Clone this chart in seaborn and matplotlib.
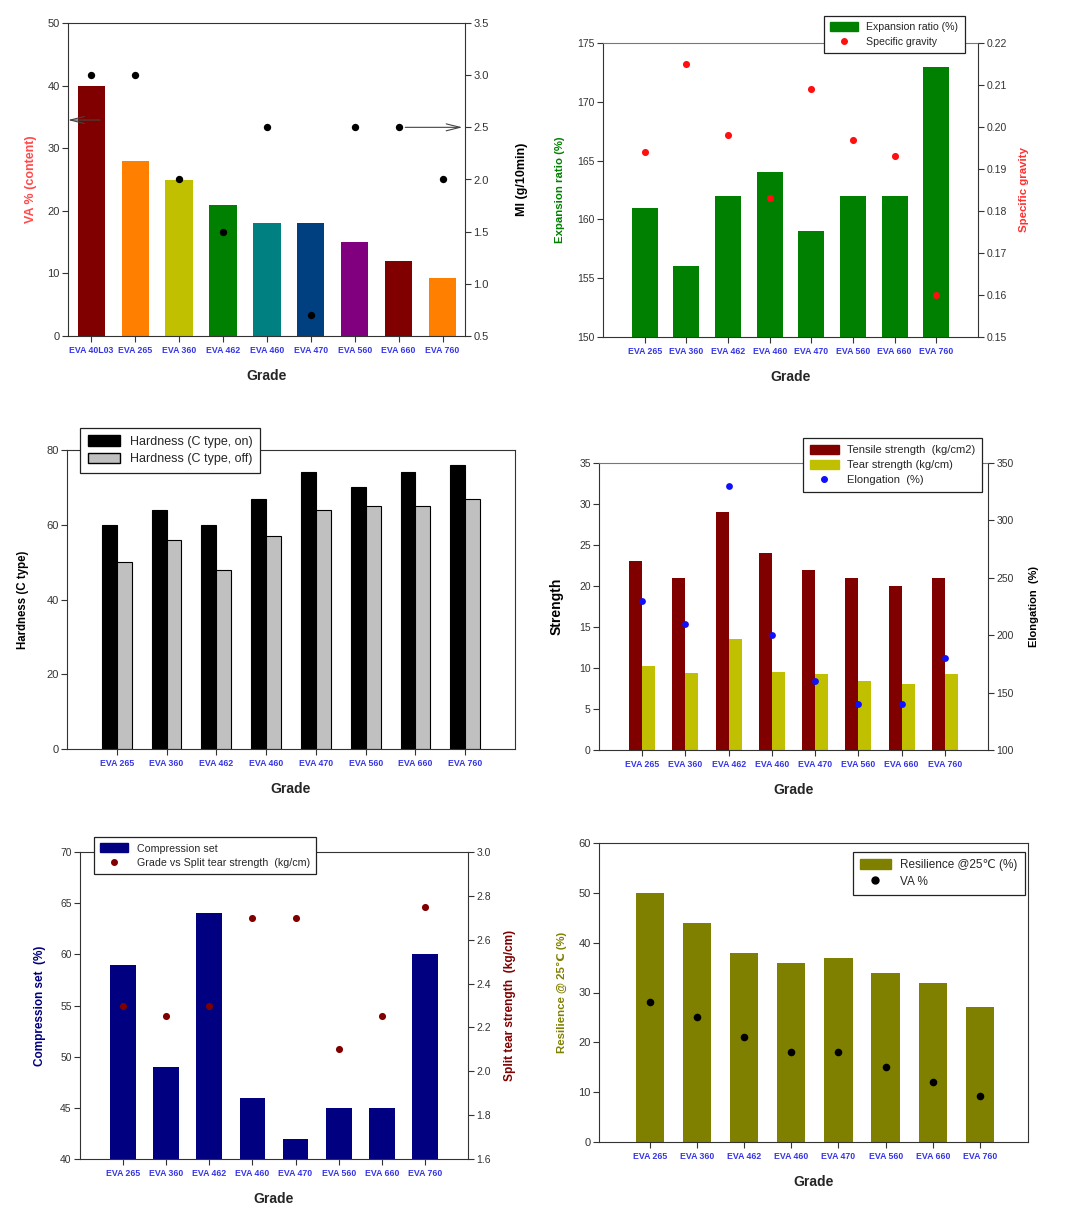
import numpy as np
import pandas as pd
import matplotlib
matplotlib.use("Agg")
import matplotlib.pyplot as plt
import matplotlib.patches as mpatches
from matplotlib.lines import Line2D
import seaborn as sns

# ---- data ----
grades9 = ['EVA 40L03', 'EVA 265', 'EVA 360', 'EVA 462', 'EVA 460',
           'EVA 470', 'EVA 560', 'EVA 660', 'EVA 760']
grades8 = grades9[1:]

va_content = [40, 28, 25, 21, 18, 18, 15, 12, 9.3]
melt_index = [3.0, 3.0, 2.0, 1.5, 2.5, 0.7, 2.5, 2.5, 2.0]
bar_colors1 = ['#800000', '#ff8000', '#c0c000', '#008000', '#008080',
               '#004080', '#800080', '#800000', '#ff8000']

expansion = [161, 156, 162, 164, 159, 162, 162, 173]
spec_grav = [0.194, 0.215, 0.198, 0.183, 0.209, 0.197, 0.193, 0.160]

hard_on = [60, 64, 60, 67, 74, 70, 74, 76]
hard_off = [50, 56, 48, 57, 64, 65, 65, 67]

tensile = [23, 21, 29, 24, 22, 21, 20, 21]
tear = [10.2, 9.4, 13.5, 9.5, 9.3, 8.4, 8.0, 9.3]
elongation = [230, 210, 330, 200, 160, 140, 140, 180]

comp_set = [59, 49, 64, 46, 42, 45, 45, 60]
split_tear = [2.3, 2.25, 2.3, 2.7, 2.7, 2.1, 2.25, 2.75]

resilience = [50, 44, 38, 36, 37, 34, 32, 27]
va_pct = [28, 25, 21, 18, 18, 15, 12, 9.3]

# ---- style ----
sns.set_style("white")
plt.rcParams['font.family'] = ['Liberation Sans', 'DejaVu Sans']

W, H = 1087, 1212
fig = plt.figure(figsize=(W / 100, H / 100), dpi=100)

SPINE = '#333333'
TICKBLUE = '#3535e8'


def make_ax(l, t, r, b):
    ax = fig.add_axes([l / W, 1 - b / H, (r - l) / W, (b - t) / H])
    return ax


def style(ax, box, twin=None, ysize=7.5):
    l, t, r, b = box
    for s in ax.spines.values():
        s.set_visible(True)
        s.set_color(SPINE)
        s.set_linewidth(0.8)
    ax.tick_params(axis='y', left=True, direction='out', length=4, width=0.8,
                   color=SPINE, labelsize=ysize, labelcolor='#333333', pad=2)
    ax.tick_params(axis='x', bottom=True, direction='out', length=4, width=0.8,
                   color=SPINE, pad=3)
    for lab in ax.get_xticklabels():
        lab.set_fontsize(6.3)
        lab.set_fontweight('bold')
        lab.set_color(TICKBLUE)
    ax.set_xlabel('Grade', fontsize=10, fontweight='bold')
    ax.xaxis.set_label_coords(0.5, -33 / (b - t))
    if twin is not None:
        for s in twin.spines.values():
            s.set_visible(False)
        twin.tick_params(axis='y', right=True, direction='out', length=4, width=0.8,
                         color=SPINE, labelsize=ysize, labelcolor='#333333', pad=2)


def ylab_left(ax, box, text, xc, color='black', size=8.5, weight='bold'):
    l, t, r, b = box
    ax.set_ylabel(text, color=color, fontsize=size, fontweight=weight)
    ax.yaxis.set_label_coords((xc + 4 - l) / (r - l), 0.5)


def ylab_right(ax, box, text, xc, color='black', size=8.5, weight='bold'):
    l, t, r, b = box
    ax.set_ylabel(text, color=color, fontsize=size, fontweight=weight)
    ax.yaxis.set_label_position('right')
    ax.yaxis.set_label_coords((xc - 4 - l) / (r - l), 0.5)


def legend(ax, handles, labels, x0, y0, size=8):
    leg = ax.legend(handles, labels, loc='upper left',
                    bbox_to_anchor=(x0 / W, 1 - y0 / H), bbox_transform=fig.transFigure,
                    fontsize=size, frameon=True, fancybox=False, framealpha=1,
                    edgecolor='#222222', borderaxespad=0, handlelength=2.6,
                    handleheight=0.9, labelspacing=0.4, borderpad=0.6)
    leg.get_frame().set_linewidth(0.9)
    leg.set_zorder(10)
    return leg


def dot(color, ms=4):
    return Line2D([], [], marker='o', linestyle='', color=color, markersize=ms)


# ---- panel 1: VA content & MI ----
box1 = (68, 23, 465, 336)
ax = make_ax(*box1)
sns.barplot(x=grades9, y=va_content, hue=grades9, palette=bar_colors1, legend=False,
            width=0.62, saturation=1, linewidth=0, ax=ax)
ax2 = ax.twinx()
sns.scatterplot(x=np.arange(len(grades9)), y=melt_index, color='black', s=28,
                linewidth=0, ax=ax2)
ax.set_ylim(0, 50)
ax2.set_ylim(0.5, 3.5)
ax.set_xlim(-0.53, 8.51)
ax.set_yticks(range(0, 51, 10))
ax2.set_yticks(np.arange(0.5, 3.51, 0.5))
ax2.set_yticklabels([f'{v:.1f}' for v in np.arange(0.5, 3.51, 0.5)])
style(ax, box1, ax2, ysize=8)
ylab_left(ax, box1, 'VA % (content)', 33, color='#ff4a4a', size=9)
ylab_right(ax2, box1, 'MI (g/10min)', 520, size=9)
ax.annotate('', xy=(-0.53, 34.5), xytext=(0.2, 34.5),
            arrowprops=dict(arrowstyle='->,head_length=1.0,head_width=0.25',
                            color='#444444', lw=0.8, shrinkA=0, shrinkB=0))
ax2.annotate('', xy=(8.45, 2.5), xytext=(7.15, 2.5),
             arrowprops=dict(arrowstyle='->,head_length=1.0,head_width=0.25',
                             color='#444444', lw=0.8, shrinkA=0, shrinkB=0))

# ---- panel 2: expansion ratio & specific gravity ----
box2 = (603, 43, 978, 337)
ax = make_ax(*box2)
sns.barplot(x=grades8, y=expansion, color='#008000', width=0.62, saturation=1,
            linewidth=0, ax=ax)
ax2 = ax.twinx()
sns.scatterplot(x=np.arange(len(grades8)), y=spec_grav, color='#ff1010', s=26,
                linewidth=0, ax=ax2)
ax.set_ylim(150, 175)
ax2.set_ylim(0.15, 0.22)
ax.set_xlim(-1, 8)
ax.set_yticks(range(150, 176, 5))
ax2.set_yticks(np.arange(0.15, 0.2201, 0.01))
ax2.set_yticklabels([f'{v:.2f}' for v in np.arange(0.15, 0.2201, 0.01)])
style(ax, box2, ax2)
ax.spines['top'].set_color('#777777')
ylab_left(ax, box2, 'Expansion ratio (%)', 561, color='#008000', size=8.2)
ylab_right(ax2, box2, 'Specific gravity', 1023, color='#ff3030', size=8.2)
legend(ax2, [mpatches.Patch(color='#008000'), dot('#ff1010')],
       ['Expansion ratio (%)', 'Specific gravity'], 824, 16, size=7.6)

# ---- panel 3: hardness ----
box3 = (67, 450, 515, 749)
ax = make_ax(*box3)
hard_df = pd.DataFrame({
    'grade': grades8 * 2,
    'kind': ['Hardness (C type, on)'] * 8 + ['Hardness (C type, off)'] * 8,
    'value': hard_on + hard_off,
})
sns.barplot(data=hard_df, x='grade', y='value', hue='kind',
            palette=['#000000', '#c0c0c0'], width=0.6, saturation=1,
            edgecolor='black', linewidth=0.8, legend=False, ax=ax)
ax.set_ylim(0, 80)
ax.set_xlim(-1, 8)
ax.set_yticks(range(0, 81, 20))
style(ax, box3, ysize=8)
ylab_left(ax, box3, 'Hardness (C type)', 25, size=8.3)
legend(ax, [mpatches.Patch(facecolor='black', edgecolor='black'),
            mpatches.Patch(facecolor='#c0c0c0', edgecolor='black')],
       ['Hardness (C type, on)', 'Hardness (C type, off)'], 80, 428, size=9)

# ---- panel 4: strength & elongation ----
box4 = (599, 463, 988, 750)
ax = make_ax(*box4)
str_df = pd.DataFrame({
    'grade': grades8 * 2,
    'kind': ['Tensile strength  (kg/cm2)'] * 8 + ['Tear strength (kg/cm)'] * 8,
    'value': tensile + tear,
})
sns.barplot(data=str_df, x='grade', y='value', hue='kind',
            palette=['#800000', '#c0c000'], width=0.6, saturation=1,
            linewidth=0, legend=False, ax=ax)
ax2 = ax.twinx()
sns.scatterplot(x=np.arange(len(grades8)), y=elongation, color='#1010ff', s=24,
                linewidth=0, ax=ax2)
ax.set_ylim(0, 35)
ax2.set_ylim(100, 350)
ax.set_xlim(-1, 8)
ax.set_yticks(range(0, 36, 5))
ax2.set_yticks(range(100, 351, 50))
style(ax, box4, ax2)
ax.spines['top'].set_color('#777777')
ylab_left(ax, box4, 'Strength', 560, size=10)
ylab_right(ax2, box4, 'Elongation  (%)', 1033, size=8)
legend(ax2, [mpatches.Patch(color='#800000'), mpatches.Patch(color='#c0c000'),
             dot('#1010ff')],
       ['Tensile strength  (kg/cm2)', 'Tear strength (kg/cm)', 'Elongation  (%)'],
       803, 438)

# ---- panel 5: compression set & split tear ----
box5 = (80, 852, 468, 1159)
ax = make_ax(*box5)
sns.barplot(x=grades8, y=comp_set, color='#000080', width=0.6, saturation=1,
            linewidth=0, ax=ax)
ax2 = ax.twinx()
sns.scatterplot(x=np.arange(len(grades8)), y=split_tear, color='#800000', s=26,
                linewidth=0, ax=ax2)
ax.set_ylim(40, 70)
ax2.set_ylim(1.6, 3.0)
ax.set_xlim(-1, 8)
ax.set_yticks(range(40, 71, 5))
ax2.set_yticks(np.arange(1.6, 3.01, 0.2))
ax2.set_yticklabels([f'{v:.1f}' for v in np.arange(1.6, 3.01, 0.2)])
style(ax, box5, ax2)
ylab_left(ax, box5, 'Compression set  (%)', 42, color='#000080')
ylab_right(ax2, box5, 'Split tear strength  (kg/cm)', 508, color='#800000', size=8.6)
legend(ax2, [mpatches.Patch(color='#000080'), dot('#800000')],
       ['Compression set', 'Grade vs Split tear strength  (kg/cm)'], 94, 837, size=7.7)

# ---- panel 6: resilience & VA ----
box6 = (599, 843, 1028, 1142)
ax = make_ax(*box6)
sns.barplot(x=grades8, y=resilience, color='#808000', width=0.6, saturation=1,
            linewidth=0, ax=ax)
sns.scatterplot(x=np.arange(len(grades8)), y=va_pct, color='black', s=30,
                linewidth=0, ax=ax, zorder=5)
ax.set_ylim(0, 60)
ax.set_xlim(-1.08, 8.02)
ax.set_yticks(range(0, 61, 10))
style(ax, box6, ysize=8)
ylab_left(ax, box6, 'Resilience @ 25\u2103 (%)', 563, color='#808000', size=8.2)
legend(ax, [mpatches.Patch(color='#808000'), dot('black', 5)],
       ['Resilience @25\u2103 (%)', 'VA %'], 853, 852, size=8.5)

fig.savefig('out.png', dpi=100)
